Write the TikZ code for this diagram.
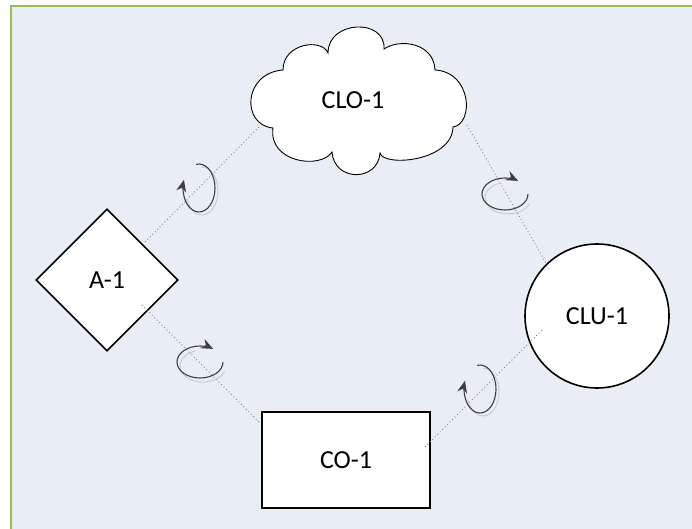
\documentclass[tikz,border=0pt]{standalone}
\usepackage{fontspec}
\setmainfont{Carlito}
\usetikzlibrary{shapes.geometric,arrows.meta}
\definecolor{bgblue}{HTML}{E9EEF6}
\definecolor{framegreen}{HTML}{9BBB59}
\definecolor{linkgray}{HTML}{7F7F7F}
\definecolor{rotgray}{HTML}{3F3F3F}
\definecolor{shadowgray}{HTML}{C8CCD2}
\tikzset{
  shapebox/.style={draw=black, fill=white, line width=1.6pt, inner sep=0pt, font=\fontsize{26}{30}\selectfont},
  labeltext/.style={inner sep=0pt, font=\fontsize{26}{30}\selectfont},
  link/.style={draw=linkgray, line width=0.9pt, dash pattern=on 0.9pt off 2.6pt},
  rotline/.style={draw=rotgray, line width=1.1pt, -{Stealth[length=12pt,width=10pt]}},
  rotshadow/.style={draw=shadowgray, line width=1pt},
  rotv/.pic={
    \draw[rotshadow] (3,3) ++(270:16 and 24) arc[start angle=270, end angle=520, x radius=16, y radius=24];
    \draw[rotline] (0,0) ++(260:16 and 24) arc[start angle=260, end angle=560, x radius=16, y radius=24];
  },
  roth/.pic={
    \draw[rotshadow] (3,4) ++(20:23 and 16) arc[start angle=20, end angle=250, x radius=23, y radius=16];
    \draw[rotline] (0,0) ++(0:23 and 16) arc[start angle=0, end angle=305, x radius=23, y radius=16];
  }
}
\begin{document}
\begin{tikzpicture}[x=1pt,y=-1pt]
\useasboundingbox (0,0) rectangle (692,529);
% background frame
\fill[white] (0,0) rectangle (692,529);
\fill[bgblue] (11,6) rectangle (692,529);
\draw[framegreen, line width=2.6pt] (11,529) -- (11,6) -- (692,6);

% cloud outline
\draw[black, fill=white, line width=0.9pt]
  (328,53) .. controls (328,20) and (386,18) .. (384,49)
  .. controls (400,38) and (434,43) .. (435,70)
  .. controls (472,72) and (474,124) .. (453,127)
  .. controls (452,162) and (383,167) .. (380,153)
  .. controls (378,182) and (334,182) .. (332,152)
  .. controls (320,170) and (268,162) .. (273,128)
  .. controls (241,125) and (243,73) .. (283,70)
  .. controls (283,43) and (322,38) .. (328,53) -- cycle;
\node[labeltext] (clo) at (353,100) {CLO-1};

% other shapes
\node[shapebox, diamond, minimum width=142pt, minimum height=142pt] (dia) at (107,280) {A-1};
\node[shapebox, circle, minimum size=144pt] (clu) at (597,316) {CLU-1};
\node[shapebox, rectangle, minimum width=168pt, minimum height=96pt] (co) at (346,460) {CO-1};

% connector end points
\coordinate (diaNE) at (145,242);
\coordinate (diaSE) at (142,305);
\coordinate (cloSW) at (260,126);
\coordinate (cloSE) at (467,125);
\coordinate (cluNW) at (550,270);
\coordinate (cluSW) at (542,330);
\coordinate (coNW) at (259,422);
\coordinate (coE) at (425,447);

\draw[link] (diaNE) -- (cloSW);
\draw[link] (cloSE) -- (cluNW);
\draw[link] (diaSE) -- (coNW);
\draw[link] (coE) -- (cluSW);

% rotation symbols
\pic at (199,188) {rotv};
\pic at (505,194) {roth};
\pic at (200,362) {roth};
\pic at (480,389) {rotv};
\end{tikzpicture}
\end{document}
